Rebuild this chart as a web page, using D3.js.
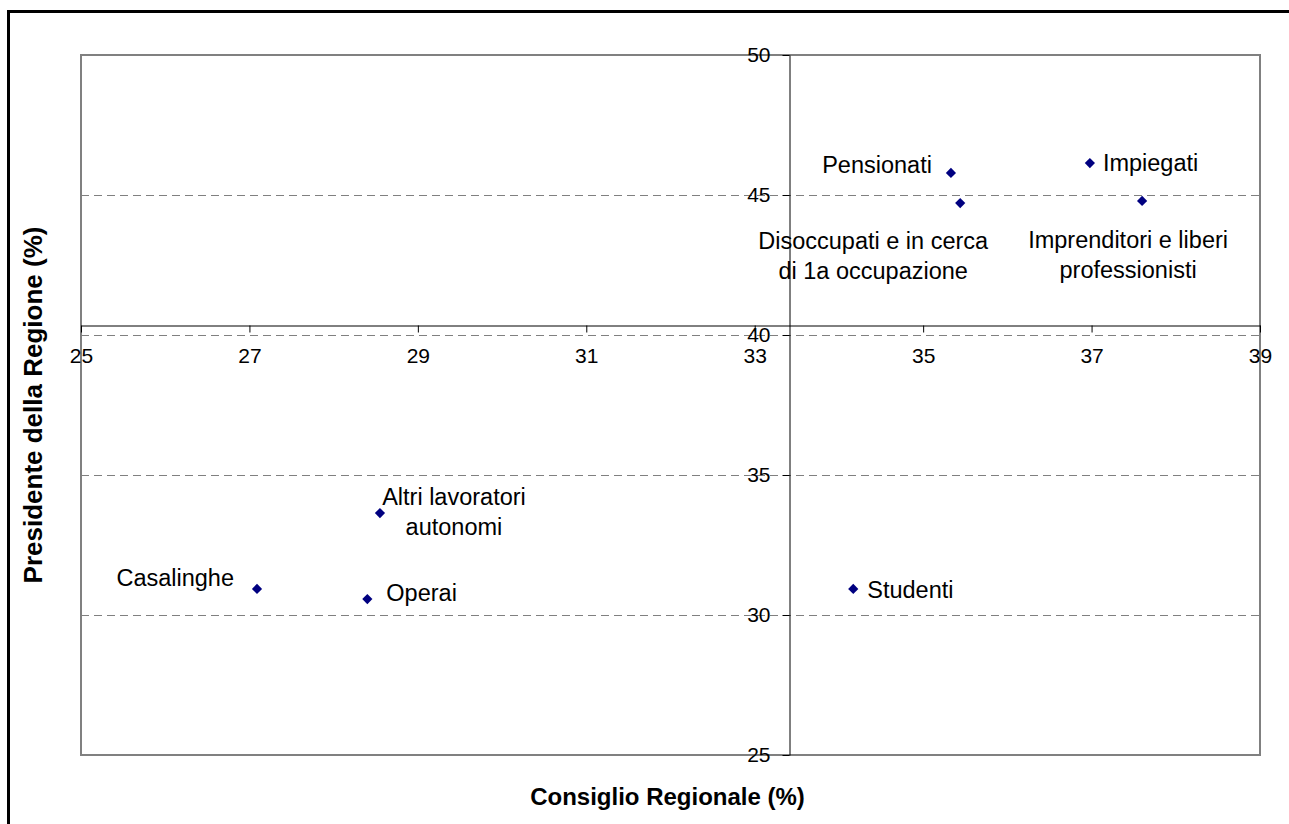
<!DOCTYPE html>
<html>
<head>
<meta charset="utf-8">
<script src="https://cdn.jsdelivr.net/npm/d3@7"></script>
<style>
  html, body { margin: 0; padding: 0; background: #fff; }
  svg { display: block; font-family: "Liberation Sans", Arial, sans-serif; }
</style>
</head>
<body>
<svg id="chart" width="1289" height="824"></svg>
<script>
// Occupational groups: vote share for the regional council (x) and for the regional president (y)
const groups = [
  "Pensionati",
  "Disoccupati e in cerca di 1a occupazione",
  "Impiegati",
  "Imprenditori e liberi professionisti",
  "Altri lavoratori autonomi",
  "Casalinghe",
  "Operai",
  "Studenti"
];
const consiglio = [35.33, 35.44, 36.98, 37.60, 28.55, 27.09, 28.40, 34.17];
const presidente = [45.79, 44.71, 46.14, 44.79, 33.64, 30.93, 30.57, 30.93];

// Label lines for each group
const labelLines = [
  ["Pensionati"],
  ["Disoccupati e in cerca", "di 1a occupazione"],
  ["Impiegati"],
  ["Imprenditori e liberi", "professionisti"],
  ["Altri lavoratori", "autonomi"],
  ["Casalinghe"],
  ["Operai"],
  ["Studenti"]
];

const xTicks = [25, 27, 29, 31, 33, 35, 37, 39];
const yTicks = [25, 30, 35, 40, 45, 50];
const yGrid = [30, 35, 40, 45];
const xCross = 33.41;   // where the vertical axis crosses
const yCross = 40.37;   // where the horizontal axis crosses

// Label layout: anchor and pixel offset of the first line from the point
const labelLayout = [
  { anchor: "end",    dx: -19, dy: -8 },
  { anchor: "middle", dx: -87, dy: 38 },
  { anchor: "start",  dx: 13,  dy: 0 },
  { anchor: "middle", dx: -14, dy: 39 },
  { anchor: "middle", dx: 74,  dy: -16 },
  { anchor: "end",    dx: -23, dy: -11 },
  { anchor: "start",  dx: 19,  dy: -6 },
  { anchor: "start",  dx: 14,  dy: 1 }
];

const svg = d3.select("#chart");
const plot = { left: 81, top: 55, right: 1260, bottom: 755 };

const x = d3.scaleLinear().domain([25, 39]).range([plot.left, plot.right]);
const y = d3.scaleLinear().domain([25, 50]).range([plot.bottom, plot.top]);

// Outer frame of the chart
svg.append("rect")
  .attr("x", 8.5).attr("y", 11.5)
  .attr("width", 1400).attr("height", 1000)
  .attr("fill", "none").attr("stroke", "#000").attr("stroke-width", 3);

// Horizontal dashed gridlines
svg.append("g").selectAll("line").data(yGrid).join("line")
  .attr("x1", plot.left).attr("x2", plot.right)
  .attr("y1", d => Math.round(y(d)) + 0.5).attr("y2", d => Math.round(y(d)) + 0.5)
  .attr("stroke", "#808080").attr("stroke-width", 1)
  .attr("stroke-dasharray", "8,5");

// Plot-area border
svg.append("rect")
  .attr("x", plot.left).attr("y", plot.top)
  .attr("width", plot.right - plot.left).attr("height", plot.bottom - plot.top)
  .attr("fill", "none").attr("stroke", "#808080").attr("stroke-width", 2);

// Horizontal axis crossing at yCross
const xAxis = d3.axisBottom(x).tickValues(xTicks).tickSize(7).tickSizeOuter(0).tickPadding(16)
  .tickFormat(d3.format("d"));
const gx = svg.append("g")
  .attr("transform", `translate(0,${Math.round(y(yCross)) + 0.5})`)
  .call(xAxis);
gx.select(".domain").attr("stroke", "#000");
gx.selectAll(".tick line").attr("stroke", "#000");
gx.selectAll(".tick text")
  .attr("font-size", 21).attr("fill", "#000")
  .attr("font-family", "Liberation Sans, Arial, sans-serif");

// Vertical axis crossing at xCross
const yAxis = d3.axisLeft(y).tickValues(yTicks).tickSize(7).tickSizeOuter(0).tickPadding(12)
  .tickFormat(d3.format("d"));
const gy = svg.append("g")
  .attr("transform", `translate(${Math.round(x(xCross)) + 0.5},0)`)
  .call(yAxis);
gy.select(".domain").attr("stroke", "#000");
gy.selectAll(".tick line").attr("stroke", "#000");
gy.selectAll(".tick text")
  .attr("font-size", 21).attr("fill", "#000")
  .attr("font-family", "Liberation Sans, Arial, sans-serif");

// Points as diamonds (squares turned 45 degrees)
const marker = d3.symbol().type(d3.symbolSquare).size(52);
const pts = groups.map((g, i) => ({ name: g, cx: consiglio[i], cy: presidente[i], lines: labelLines[i], lay: labelLayout[i] }));

svg.append("g").selectAll("path").data(pts).join("path")
  .attr("d", marker)
  .attr("transform", d => `translate(${x(d.cx)},${y(d.cy)}) rotate(45)`)
  .attr("fill", "#000080");

// Data labels
const lineH = 30;
const lbl = svg.append("g").attr("font-size", 23.5).attr("fill", "#000");
pts.forEach(d => {
  const px = x(d.cx) + d.lay.dx, py = y(d.cy) + d.lay.dy;
  const t = lbl.append("text").attr("text-anchor", d.lay.anchor);
  d.lines.forEach((ln, k) => {
    t.append("tspan").attr("x", px).attr("y", py + k * lineH).attr("dy", "0.35em").text(ln);
  });
});

// Axis titles
svg.append("text")
  .attr("x", (plot.left + plot.right) / 2 - 3).attr("y", 797).attr("dy", "0.35em")
  .attr("text-anchor", "middle").attr("font-size", 24).attr("font-weight", "bold")
  .text("Consiglio Regionale (%)");
svg.append("text")
  .attr("transform", `translate(33,${(plot.top + plot.bottom) / 2}) rotate(-90)`)
  .attr("dy", "0.35em")
  .attr("text-anchor", "middle").attr("font-size", 26).attr("font-weight", "bold")
  .text("Presidente della Regione (%)");
</script>
</body>
</html>
